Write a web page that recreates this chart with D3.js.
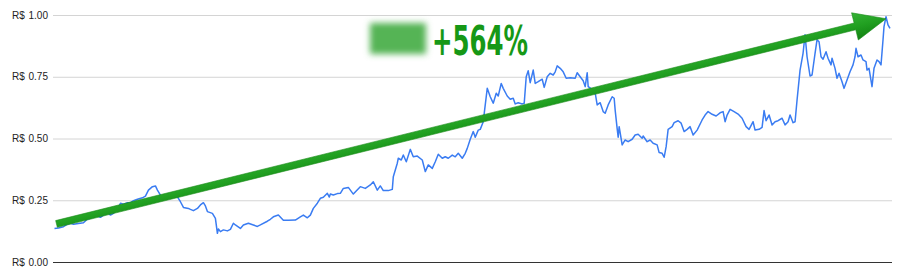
<!DOCTYPE html>
<html>
<head>
<meta charset="utf-8">
<script src="https://cdn.jsdelivr.net/npm/d3@7"></script>
<style>
  body { margin: 0; background: #fff; }
  svg { display: block; font-family: "Liberation Sans", Arial, sans-serif; }
</style>
</head>
<body>
<div id="chart"></div>
<script>
// price series: [day, price in R$]
const priceSeries = [
  [0, .136], [4, .138], [9, .143], [13, .153], [16, .157], [19, .153], [29, .159], [33, .174], [36, .177], [39, .183],
  [43, .186], [46, .181], [49, .190], [53, .200], [56, .190], [59, .197], [63, .213], [66, .238], [69, .234], [73, .240],
  [76, .240], [79, .248], [83, .254], [88, .260], [91, .267], [94, .291], [98, .305], [101, .308], [103, .291], [106, .271],
  [109, .262], [111, .271], [114, .258], [119, .262], [123, .264], [126, .244], [129, .221], [134, .217], [136, .213], [139, .208],
  [143, .217], [146, .231], [149, .240], [151, .227], [153, .204], [158, .197], [161, .177], [163, .116], [164, .134], [166, .123],
  [169, .130], [173, .126], [176, .132], [179, .157], [181, .150], [186, .136], [189, .150], [194, .157], [199, .150], [203, .144],
  [206, .150], [213, .165], [216, .173], [219, .183], [224, .190], [229, .169], [234, .169], [241, .170], [246, .183], [249, .190],
  [253, .179], [256, .190], [259, .217], [263, .238], [266, .258], [269, .262], [273, .278], [275, .263], [276, .275], [279, .271],
  [283, .277], [286, .278], [289, .298], [294, .302], [299, .275], [306, .305], [311, .298], [316, .312], [319, .325], [323, .291],
  [326, .308], [329, .289], [334, .289], [338, .294], [339, .345], [343, .400], [344, .420], [347, .413], [349, .433], [352, .406],
  [356, .456], [359, .426], [363, .429], [368, .413], [371, .366], [374, .393], [378, .379], [381, .406], [384, .436], [388, .420],
  [391, .426], [394, .420], [398, .433], [401, .426], [404, .440], [408, .420], [411, .440], [413, .460], [416, .497], [419, .528],
  [421, .505], [424, .534], [426, .537], [429, .568], [431, .636], [433, .703], [436, .669], [439, .643], [442, .683], [444, .672],
  [447, .723], [449, .703], [453, .672], [456, .659], [459, .663], [461, .640], [464, .645], [468, .640], [470, .643], [472, .750],
  [474, .774], [476, .726], [479, .777], [481, .723], [484, .730], [488, .740], [490, .707], [493, .750], [496, .764], [499, .757],
  [501, .770], [503, .794], [506, .784], [509, .770], [512, .744], [516, .746], [521, .744], [523, .766], [526, .750], [529, .734],
  [531, .710], [533, .766], [534, .710], [538, .699], [541, .685], [543, .636], [546, .645], [549, .609], [551, .602], [554, .636],
  [558, .669], [560, .663], [561, .615], [563, .540], [564, .505], [565, .548], [568, .474], [571, .494], [574, .487], [578, .497],
  [581, .514], [584, .517], [588, .501], [589, .510], [593, .487], [596, .494], [599, .481], [603, .474], [605, .443], [608, .440],
  [610, .424], [612, .467], [614, .537], [618, .548], [620, .564], [624, .572], [627, .562], [630, .528], [633, .537], [636, .548],
  [639, .514], [643, .534], [648, .575], [651, .595], [654, .609], [658, .598], [662, .591], [666, .604], [669, .609], [671, .568],
  [673, .595], [676, .618], [680, .609], [684, .599], [688, .582], [692, .548], [695, .537], [699, .568], [701, .534], [705, .537],
  [708, .545], [710, .613], [712, .572], [715, .595], [718, .555], [721, .568], [724, .572], [728, .582], [731, .555], [734, .568],
  [736, .595], [739, .564], [741, .568], [743, .656], [746, .777], [749, .845], [751, .920], [753, .831], [756, .753], [758, .757],
  [761, .845], [763, .900], [765, .892], [767, .831], [769, .821], [772, .851], [774, .825], [777, .798], [778, .825], [781, .784],
  [783, .744], [785, .764], [788, .730], [790, .703], [793, .737], [796, .770], [799, .798], [801, .831], [802, .865], [804, .831],
  [807, .838], [809, .818], [812, .811], [813, .777], [815, .784], [818, .710], [820, .784], [823, .818], [825, .811], [827, .798],
  [829, .899], [830, .953], [832, .993], [834, .960], [836, .946]
];

const yTicks = [0, 0.25, 0.5, 0.75, 1];
const currencyLabel = "R$";
const gainLabel = "+564%";
// trend arrow, from [day, price] to [day, price]
const trendFrom = [2, 0.154];
const trendTo = [832, 0.985];

const W = 900, H = 280;
const plotLeft = 53, plotRight = 892, plotTop = 15, plotBottom = 262;

const svg = d3.select("#chart").append("svg")
  .attr("width", W)
  .attr("height", H);

const x = d3.scaleLinear()
  .domain([0, 836])
  .range([54.5, 890]);

const y = d3.scaleLinear()
  .domain([0, 1])
  .range([plotBottom, plotTop]);

// y axis with gridlines
const yAxis = svg.append("g")
  .attr("transform", "translate(" + plotLeft + ",0)")
  .call(d3.axisLeft(y)
    .tickValues(yTicks)
    .tickSize(-(plotRight - plotLeft))
    .tickPadding(5)
    .tickFormat(d3.format(".2f")));

yAxis.select(".domain").remove();
yAxis.selectAll(".tick line")
  .attr("stroke", d => d === 0 ? "#333" : "#d4d4d4")
  .attr("stroke-width", 1);
yAxis.selectAll(".tick text")
  .attr("fill", "#222")
  .attr("font-size", 10)
  .attr("font-family", "'Liberation Sans', Arial, sans-serif");
yAxis.selectAll(".tick")
  .append("text")
  .attr("x", 12 - plotLeft)
  .attr("dy", "0.32em")
  .attr("fill", "#222")
  .attr("font-size", 10)
  .attr("font-family", "'Liberation Sans', Arial, sans-serif")
  .attr("text-anchor", "start")
  .text(currencyLabel);

// price line
const line = d3.line()
  .x(d => x(d[0]))
  .y(d => y(d[1]));

svg.append("path")
  .datum(priceSeries)
  .attr("fill", "none")
  .attr("stroke", "#3a7cf2")
  .attr("stroke-width", 1.5)
  .attr("stroke-linejoin", "round")
  .attr("d", line);

// trend arrow
const p0 = [x(trendFrom[0]), y(trendFrom[1])];
const p1 = [x(trendTo[0]), y(trendTo[1])];
const len = Math.hypot(p1[0] - p0[0], p1[1] - p0[1]);
const u = [(p1[0] - p0[0]) / len, (p1[1] - p0[1]) / len];
const n = [-u[1], u[0]];
const shaftHalf = 3.5, headHalf = 14, headLen = 32;
const hb = [p1[0] - u[0] * headLen, p1[1] - u[1] * headLen];
const off = (p, k) => [p[0] + n[0] * k, p[1] + n[1] * k];

const defs = svg.append("defs");
const grad = defs.append("linearGradient")
  .attr("id", "arrowGrad")
  .attr("gradientUnits", "userSpaceOnUse")
  .attr("x1", off(p0, -headHalf)[0]).attr("y1", off(p0, -headHalf)[1])
  .attr("x2", off(p0, headHalf)[0]).attr("y2", off(p0, headHalf)[1]);
grad.append("stop").attr("offset", "0%").attr("stop-color", "#36b236");
grad.append("stop").attr("offset", "50%").attr("stop-color", "#21a021");
grad.append("stop").attr("offset", "100%").attr("stop-color", "#128212");

const arrowPts = [
  off(p0, -shaftHalf), off(hb, -shaftHalf), off(hb, -headHalf), p1,
  off(hb, headHalf), off(hb, shaftHalf), off(p0, shaftHalf)
];
svg.append("polygon")
  .attr("points", arrowPts.map(p => p.join(",")).join(" "))
  .attr("fill", "url(#arrowGrad)")
  .attr("stroke", "#1a8c1a")
  .attr("stroke-width", 0.6)
  .attr("stroke-linejoin", "round");

// blurred name + gain label
defs.append("filter")
  .attr("id", "blur")
  .attr("x", "-30%").attr("y", "-30%")
  .attr("width", "160%").attr("height", "160%")
  .append("feGaussianBlur")
  .attr("stdDeviation", 3);

svg.append("rect")
  .attr("x", 370)
  .attr("y", 23)
  .attr("width", 56)
  .attr("height", 31)
  .attr("fill", "#55b455")
  .attr("filter", "url(#blur)");

svg.append("text")
  .attr("x", 432)
  .attr("y", 55)
  .attr("fill", "#169816")
  .attr("font-family", "'Liberation Sans Narrow', 'DejaVu Sans Condensed', sans-serif")
  .attr("font-weight", "bold")
  .attr("font-size", 41)
  .attr("textLength", 96)
  .attr("lengthAdjust", "spacingAndGlyphs")
  .text(gainLabel);
</script>
</body>
</html>
